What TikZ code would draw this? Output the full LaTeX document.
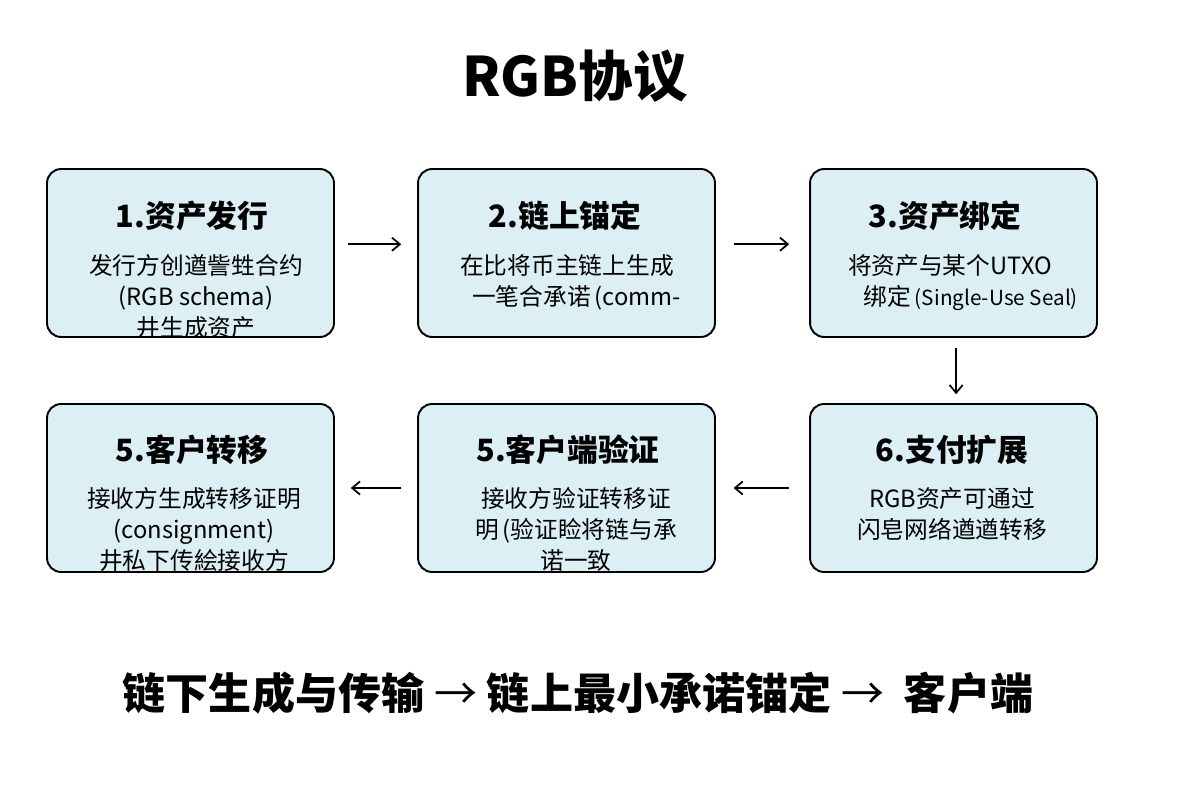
\documentclass[tikz,border=0pt]{standalone}
\usepackage{fontspec}
\setmainfont{Noto Sans CJK SC}
\usepackage{xcolor}
\usepackage{tikz}
\usetikzlibrary{arrows.meta}
\definecolor{boxblue}{RGB}{220,239,244}

\begin{document}
\begin{tikzpicture}[x=0.02cm,y=-0.02cm,
  stage/.style={draw, line width=1.1pt, fill=boxblue, rounded corners=8pt, minimum height=3.36cm, inner sep=0pt},
  heading/.style={font=\fontsize{17.5}{20}\selectfont\bfseries},
  body/.style={font=\fontsize{13.5}{17.6}\selectfont, align=center, anchor=north, inner sep=0pt},
  flow/.style={-{Straight Barb[length=4.5pt,width=7.5pt]}, line width=1pt}]
\useasboundingbox (0,0) rectangle (1200,800);

\node[font=\fontsize{31}{36}\selectfont\bfseries] (title) at (575,76) {RGB协议};

\node[stage, minimum width=5.74cm] (1) at (190.5,253) {};
\node[stage, minimum width=5.94cm] (2) at (566.5,253) {};
\node[stage, minimum width=5.74cm] (3) at (953.5,253) {};
\node[stage, minimum width=5.74cm] (4) at (953.5,488) {};
\node[stage, minimum width=5.94cm] (5) at (566.5,488) {};
\node[stage, minimum width=5.74cm] (6) at (190.5,488) {};

\node[heading] (h1) at (192,216) {1.资产发行};
\node[heading] (h2) at (565,216) {2.链上锚定};
\node[heading] (h3) at (945,216) {3.资产绑定};
\node[heading] (h4) at (952,450) {6.支付扩展};
\node[heading] (h5) at (568,450) {5.客户端验证};
\node[heading] (h6) at (192,450) {5.客户转移};

\node[body] (t1) at (196,254) {发行方创遒訾甡合约\\(RGB schema)\\井生成资产};
\node[body] (t2) at (567,254) {在比将币主链上生成\\\hspace*{0.8em}一笔合承诺\,(comm-};
\node[body] (t3) at (950,254) {将资产与某个UTXO\\\hspace*{1.75em}绑定\,{\fontsize{11.8}{17.6}\selectfont(Single-Use Seal)}};
\node[body] (t4) at (952,487) {RGB资产可通过\\闪皂网络遒遒转移};
\node[body] (t5) at (576,487) {接收方验证转移证\\明\,(验证睑将链与承\\诺一致};
\node[body] (t6) at (194,487) {接收方生成转移证明\\(consignment)\\井私下传絵接收方};

\draw[flow, shorten <=7.4pt, shorten >=9pt] ([yshift=5pt]1.east) -- ([yshift=5pt]2.west);
\draw[flow, shorten <=10pt, shorten >=11.3pt] ([yshift=5pt]2.east) -- ([yshift=5pt]3.west);
\draw[flow, shorten <=6pt, shorten >=5pt] ([xshift=1.5pt]3.south) -- ([xshift=1.5pt]4.north);
\draw[flow, shorten <=11.3pt, shorten >=10pt] (4.west) -- (5.east);
\draw[flow, shorten <=9pt, shorten >=9pt] (5.west) -- (6.east);

\node[font=\fontsize{24.5}{28}\selectfont\bfseries] (summary) at (578,693) {链下生成与传输 {\mdseries →} 链上最小承诺锚定 {\mdseries →}~~客户端};
\end{tikzpicture}
\end{document}
